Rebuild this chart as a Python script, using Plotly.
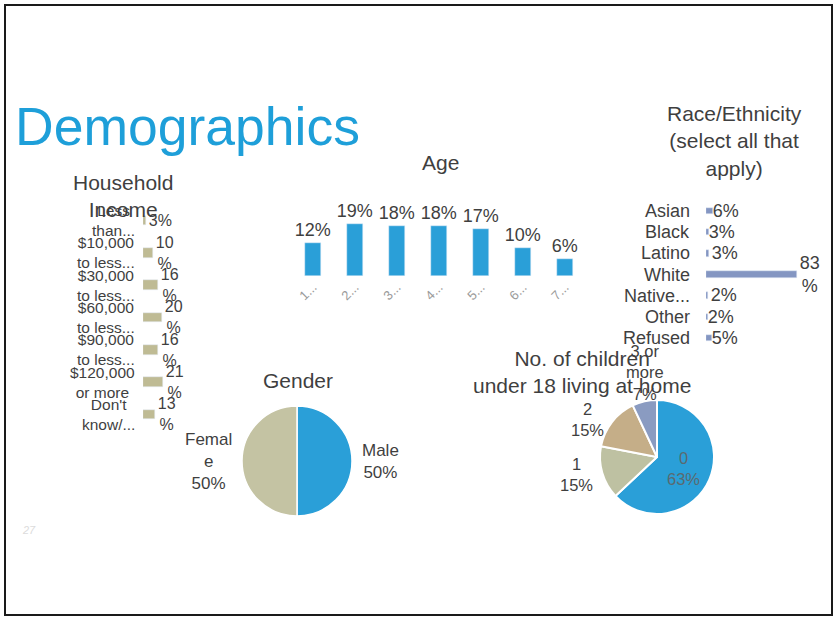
import math
import plotly.graph_objects as go

W, H = 836, 618
FONT = "Liberation Sans, Arial, sans-serif"
TEXT = "#3f3f3f"

# ---- data ----
income_labels = ["Less<br>than...", "$10,000<br>to less...", "$30,000<br>to less...",
                 "$60,000<br>to less...", "$90,000<br>to less...", "$120,000<br>or more",
                 "Don't<br>know/..."]
income_values = [3, 10, 16, 20, 16, 21, 13]

age_labels = ["1...", "2...", "3...", "4...", "5...", "6...", "7..."]
age_values = [12, 19, 18, 18, 17, 10, 6]

race_labels = ["Asian", "Black", "Latino", "White", "Native...", "Other", "Refused"]
race_values = [6, 3, 3, 83, 2, 2, 5]

gender_labels = ["Male", "Female"]
gender_display = ["Male", "Femal<br>e"]
gender_values = [50, 50]

children_labels = ["0", "1", "2", "3 or more"]
children_display = ["0", "1", "2", "3 or<br>more"]
children_values = [63, 15, 15, 7]

# ---- colours ----
BLUE = "#2a9fd8"
KHAKI = "#bfbb94"
SLATE = "#8496c2"
gender_colors = [BLUE, "#c4c3a3"]
children_colors = ["#2a9fd8", "#bec1a2", "#c5ae88", "#8a9bc1"]


def px_x(px):
    return px / W


def px_y(py):
    return 1 - py / H


def pct_text(v):
    # two-digit values wrap onto a second line in the narrow label box
    return f"{v}<br>%" if v >= 10 else f"{v}%"


def pie_label_annotations(cx, cy, r, values, names, inside, size, inside_color):
    """Slice labels placed from each slice's mid-angle (clockwise from 12 o'clock)."""
    total = float(sum(values))
    out = []
    start = 0.0
    for v, name, ins in zip(values, names, inside):
        mid = (start + v / 2.0) / total * 2 * math.pi
        start += v
        dx, dy = math.sin(mid), -math.cos(mid)
        text = f"{name}<br>{v}%"
        if ins:
            px, py = cx + dx * r * 0.5, cy + dy * r * 0.5
            xa, ya, col = "center", "middle", inside_color
        else:
            if abs(dx) < 0.35:
                px, py = cx + dx * r, cy + dy * (r - 4)
                xa = "center"
                ya = "bottom" if dy < 0 else "top"
            else:
                px, py = cx + dx * (r + 8), cy + dy * (r + 4)
                xa = "left" if dx > 0 else "right"
                ya = "middle"
            col = TEXT
        out.append(dict(text=text, x=px_x(px), y=px_y(py), xanchor=xa, yanchor=ya,
                        align="center", font=dict(size=size, color=col, family=FONT)))
    return out


def category_label_annotations(labels, yref, right_px, size):
    """Category names as centred text blocks, right-aligned against the bars."""
    return [dict(text=lab, x=px_x(right_px), xref="paper", y=lab, yref=yref,
                 xanchor="right", yanchor="middle", align="center",
                 font=dict(size=size, color=TEXT, family=FONT)) for lab in labels]


fig = go.Figure()

# Household income (horizontal bars)
fig.add_trace(go.Bar(
    x=income_values, y=income_labels, orientation="h",
    marker_color=KHAKI, width=0.3,
    text=[pct_text(v) for v in income_values], textposition="outside",
    textfont=dict(size=16, color=TEXT, family=FONT),
    cliponaxis=False, constraintext="none",
    xaxis="x", yaxis="y", showlegend=False,
))

# Age (vertical bars)
fig.add_trace(go.Bar(
    x=age_labels, y=age_values,
    marker_color=BLUE, width=0.38,
    text=[f"{v}%" for v in age_values], textposition="outside",
    textfont=dict(size=18, color=TEXT, family=FONT),
    cliponaxis=False, constraintext="none",
    xaxis="x2", yaxis="y2", showlegend=False,
))

# Race / ethnicity (horizontal bars)
fig.add_trace(go.Bar(
    x=race_values, y=race_labels, orientation="h",
    marker_color=SLATE, width=0.3,
    text=[pct_text(v) for v in race_values], textposition="outside",
    textfont=dict(size=18, color=TEXT, family=FONT),
    cliponaxis=False, constraintext="none",
    xaxis="x3", yaxis="y3", showlegend=False,
))

# Pies: (centre x, centre y, radius) in pixels
GENDER_PIE = (297, 461, 55)
CHILD_PIE = (657, 457, 57)

fig.add_trace(go.Pie(
    labels=gender_labels, values=gender_values, textinfo="none",
    marker=dict(colors=gender_colors, line=dict(color="white", width=1.5)),
    sort=False, direction="clockwise", showlegend=False,
    domain=dict(x=[px_x(GENDER_PIE[0] - GENDER_PIE[2]), px_x(GENDER_PIE[0] + GENDER_PIE[2])],
                y=[px_y(GENDER_PIE[1] + GENDER_PIE[2]), px_y(GENDER_PIE[1] - GENDER_PIE[2])]),
))

fig.add_trace(go.Pie(
    labels=children_labels, values=children_values, textinfo="none",
    marker=dict(colors=children_colors, line=dict(color="white", width=2)),
    sort=False, direction="clockwise", showlegend=False,
    domain=dict(x=[px_x(CHILD_PIE[0] - CHILD_PIE[2]), px_x(CHILD_PIE[0] + CHILD_PIE[2])],
                y=[px_y(CHILD_PIE[1] + CHILD_PIE[2]), px_y(CHILD_PIE[1] - CHILD_PIE[2])]),
))

hidden = dict(showgrid=False, zeroline=False, showline=False, ticks="")

TITLE_FONT = dict(size=21, color=TEXT, family=FONT)
annotations = [
    dict(text="Demographics", x=px_x(13), y=px_y(126), xanchor="left", yanchor="middle",
         font=dict(size=53.5, color="#1e9fd9", family=FONT)),
    dict(text="Household<br>Income", x=px_x(123), y=px_y(196), xanchor="center", yanchor="middle",
         font=TITLE_FONT),
    dict(text="Age", x=px_x(440), y=px_y(162), xanchor="center", yanchor="middle",
         font=TITLE_FONT),
    dict(text="Race/Ethnicity<br>(select all that<br>apply)", x=px_x(734), y=px_y(141),
         xanchor="center", yanchor="middle", font=TITLE_FONT),
    dict(text="Gender", x=px_x(298), y=px_y(381), xanchor="center", yanchor="middle",
         font=TITLE_FONT),
    dict(text="No. of children<br>under 18 living at home", x=px_x(582), y=px_y(372),
         xanchor="center", yanchor="middle", font=TITLE_FONT),
    dict(text="<i>27</i>", x=px_x(20), y=px_y(530), xanchor="left", yanchor="middle",
         font=dict(size=11, color="#dcdcdc", family=FONT)),
]

annotations += category_label_annotations(income_labels, "y", 137, 15.5)
annotations += category_label_annotations(race_labels, "y3", 692, 18)

annotations += pie_label_annotations(*GENDER_PIE, gender_values, gender_display,
                                     [False, False], 17, TEXT)
annotations += pie_label_annotations(*CHILD_PIE, children_values, children_display,
                                     [True, False, False, False], 16.5, "#5a6a70")

for a in annotations:
    a.setdefault("xref", "paper")
    a.setdefault("yref", "paper")
    a["showarrow"] = False

fig.update_layout(
    width=W, height=H, margin=dict(l=0, r=0, t=0, b=0),
    paper_bgcolor="white", plot_bgcolor="white",
    font=dict(family=FONT, color=TEXT),
    bargap=0,
    xaxis=dict(domain=[px_x(143), px_x(167)], range=[0, 25], showticklabels=False, **hidden),
    yaxis=dict(domain=[px_y(435), px_y(200)], autorange="reversed", anchor="x",
               showticklabels=False, **hidden),
    xaxis2=dict(domain=[px_x(292), px_x(586)], anchor="y2", tickangle=-45,
                tickfont=dict(size=13, color="#9a9a9a", family=FONT), **hidden),
    yaxis2=dict(domain=[px_y(276), px_y(207)], range=[0, 25], anchor="x2",
                showticklabels=False, **hidden),
    xaxis3=dict(domain=[px_x(706), px_x(805)], range=[0, 90], anchor="y3",
                showticklabels=False, **hidden),
    yaxis3=dict(domain=[px_y(350), px_y(199)], autorange="reversed", anchor="x3",
                showticklabels=False, **hidden),
    annotations=annotations,
    shapes=[dict(type="rect", xref="paper", yref="paper",
                 x0=px_x(5), x1=px_x(832), y0=px_y(615), y1=px_y(5),
                 line=dict(color="#1a1a1a", width=2))],
)

fig.write_html("out.html")
